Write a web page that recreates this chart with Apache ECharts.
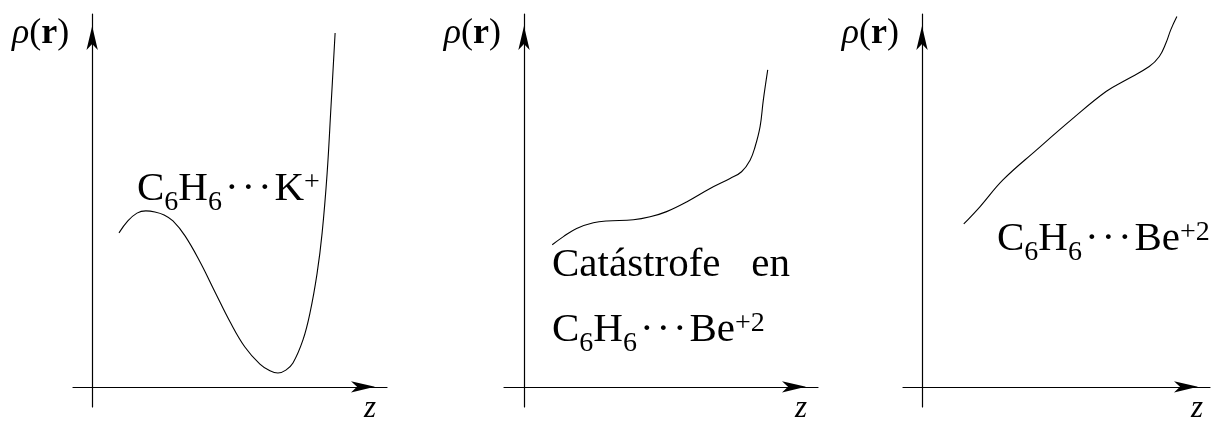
<!DOCTYPE html>
<html>
<head>
<meta charset="utf-8">
<script src="https://cdn.jsdelivr.net/npm/echarts@6/dist/echarts.min.js"></script>
<style>
  html, body { margin: 0; padding: 0; background: #ffffff; }
  #chart { width: 1211px; height: 421px; }
</style>
</head>
<body>
<div id="chart"></div>
<script>
// Electron density profiles rho(r) along z (arbitrary units)
const zK     = [0.91, 1.21, 1.52, 1.82, 2.13, 2.44, 2.74, 3.15, 3.66, 4.17, 4.68, 5.18, 5.69, 6.03, 6.30, 6.57, 6.81, 7.15, 7.39, 7.63, 7.80, 7.97, 8.10, 8.24];
const rhoK   = [4.13, 4.45, 4.66, 4.72, 4.69, 4.61, 4.45, 4.05, 3.35, 2.54, 1.74, 1.07, 0.61, 0.43, 0.37, 0.45, 0.64, 1.26, 1.99, 3.05, 4.13, 5.74, 7.51, 9.49];

const zBeA   = [0.96, 1.34, 1.79, 2.36, 2.82, 3.72, 4.29, 4.85, 5.53, 6.33, 7.01, 7.40, 7.69, 7.86, 8.03, 8.14, 8.29];
const rhoBeA = [3.81, 4.03, 4.25, 4.40, 4.45, 4.48, 4.56, 4.70, 4.96, 5.32, 5.59, 5.77, 6.08, 6.44, 6.98, 7.69, 8.50];

const zBeB   = [1.45, 2.01, 2.81, 3.97, 5.24, 6.39, 7.08, 7.89, 8.24, 8.47, 8.64, 8.85];
const rhoBeB = [4.37, 4.83, 5.55, 6.35, 7.20, 7.92, 8.23, 8.59, 8.86, 9.22, 9.58, 9.93];

// Axis extents (origin sits inside, so the axes cross at z = 0, rho = 0)
const zMin   = [-0.65, -0.68, -0.66];
const zMax   = 10;
const rhoMin = -0.54;
const rhoMax = 10;

const yName = '{i|ρ}{n|(}{b|r}{n|)}';
const xName = 'z';

const SERIF = '"Liberation Serif", "DejaVu Serif", serif';

const zip = (a, b) => a.map((v, i) => [v, b[i]]);

const grids = [
  { left: 73,  top: 14, width: 314, height: 393, outerBoundsMode: 'none', containLabel: false },
  { left: 504, top: 14, width: 314, height: 393, outerBoundsMode: 'none', containLabel: false },
  { left: 903, top: 14, width: 307, height: 393, outerBoundsMode: 'none', containLabel: false }
];

const arrowLine = {
  onZero: true,
  symbol: ['none', 'arrow'],
  symbolSize: [8.5, 24],
  symbolOffset: [0, -12],
  lineStyle: { color: '#000', width: 1.2 }
};

const xAxes = grids.map((g, i) => ({
  type: 'value', gridIndex: i, min: zMin[i], max: zMax,
  axisLine: arrowLine,
  axisTick: { show: false }, axisLabel: { show: false }, splitLine: { show: false },
  name: xName, nameLocation: 'end', nameGap: i === 2 ? -13 : -17,
  nameMoveOverlap: false,
  nameTextStyle: {
    fontFamily: SERIF, fontStyle: 'italic', fontSize: 31, color: '#000',
    align: 'center', verticalAlign: 'top', lineHeight: 43
  }
}));

const yAxes = grids.map((g, i) => ({
  type: 'value', gridIndex: i, min: rhoMin, max: rhoMax,
  axisLine: arrowLine,
  axisTick: { show: false }, axisLabel: { show: false }, splitLine: { show: false },
  name: yName, nameLocation: 'end', nameGap: -20,
  nameMoveOverlap: false,
  nameTextStyle: {
    align: 'right', verticalAlign: 'middle', padding: [0, 23, 0, 0],
    rich: {
      i: { fontFamily: SERIF, fontStyle: 'italic', fontSize: 36, color: '#000' },
      n: { fontFamily: SERIF, fontSize: 36, color: '#000' },
      b: { fontFamily: SERIF, fontWeight: 'bold', fontSize: 36, color: '#000' }
    }
  }
}));

const curve = (i, data) => ({
  type: 'line', xAxisIndex: i, yAxisIndex: i, data: data,
  smooth: 0.4, showSymbol: false, silent: true,
  lineStyle: { color: '#000', width: 1.1 }
});

// Chemical formula labels with sub/superscripts and a centred ellipsis
const formulaRich = {
  m: { fontFamily: SERIF, fontSize: 41, lineHeight: 41, verticalAlign: 'top', fill: '#000', color: '#000' },
  g: { fontFamily: SERIF, fontSize: 41, lineHeight: 41, verticalAlign: 'top', width: 3 },
  d: { fontFamily: SERIF, fontSize: 41, lineHeight: 41, verticalAlign: 'top', width: 16.5, fill: '#000', color: '#000' },
  s: { fontFamily: SERIF, fontSize: 28, lineHeight: 28, verticalAlign: 'top', padding: [20, 0, 0, 0], fill: '#000', color: '#000' },
  p: { fontFamily: SERIF, fontSize: 28, lineHeight: 10, verticalAlign: 'top', fill: '#000', color: '#000' }
};
const dots = '{g| }{d|·}{d|·}{d|·}';
const formulaK  = '{m|C}{s|6}{m|H}{s|6}' + dots + '{m|K}{p|+}';
const formulaBe = '{m|C}{s|6}{m|H}{s|6}' + dots + '{m|Be}{p|+2}';

const formulaText = (left, top, text) => ({
  type: 'text', left: left, top: top, silent: true,
  style: { text: text, rich: formulaRich, fill: '#000' }
});

const option = {
  backgroundColor: '#ffffff',
  animation: false,
  grid: grids,
  xAxis: xAxes,
  yAxis: yAxes,
  series: [
    curve(0, zip(zK, rhoK)),
    curve(1, zip(zBeA, rhoBeA)),
    curve(2, zip(zBeB, rhoBeB))
  ],
  graphic: [
    formulaText(137, 169, formulaK),
    {
      type: 'text', left: 552, top: 245, silent: true,
      style: { text: 'Catástrofe   en', fontFamily: SERIF, fontSize: 41, fill: '#000' }
    },
    formulaText(552, 310, formulaBe),
    formulaText(997, 219, formulaBe)
  ]
};

const chart = echarts.init(document.getElementById('chart'), null, { renderer: 'canvas' });
chart.setOption(option);
</script>
</body>
</html>
